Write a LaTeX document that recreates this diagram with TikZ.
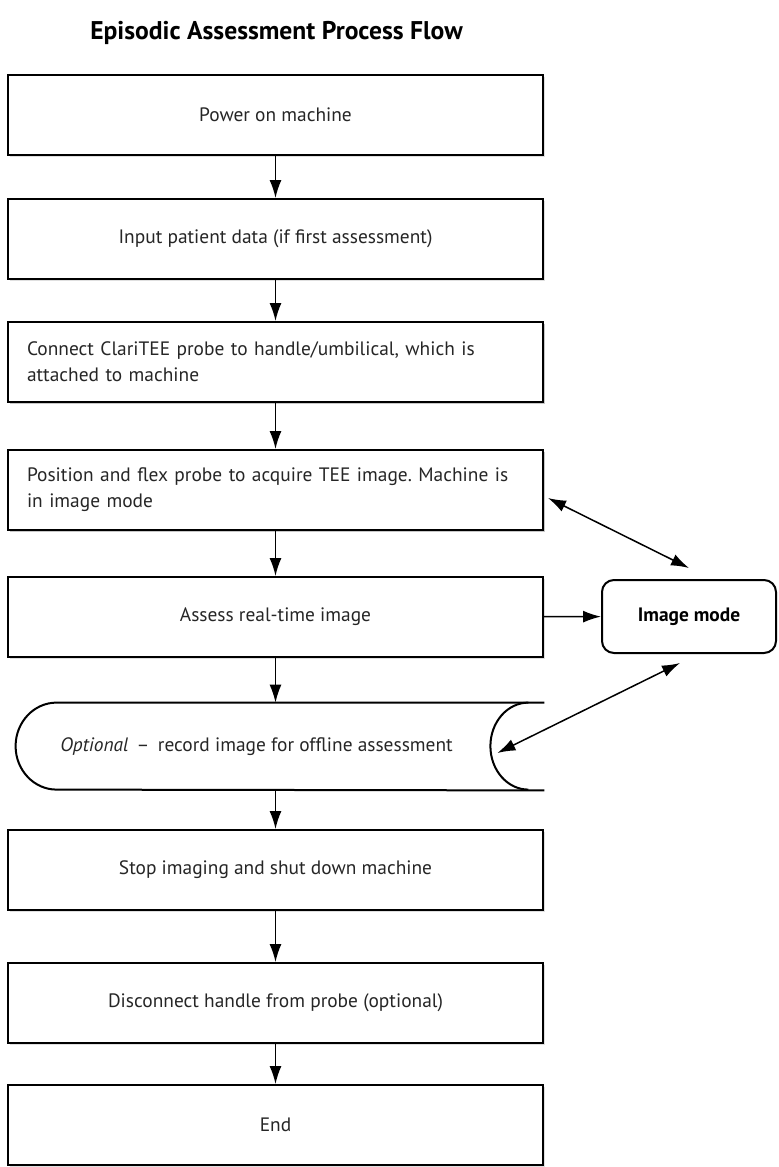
\documentclass[tikz,border=0pt]{standalone}
\usepackage{fontspec}
\setmainfont{PT Sans}
\usetikzlibrary{arrows.meta,shadows}
\frenchspacing
\tikzset{
    boite/.style={draw, line width=1pt, fill=white, minimum width=267.5pt, minimum height=40pt, inner sep=0pt, text=black!85, font=\fontsize{9.7}{13}\selectfont, drop shadow={shadow xshift=1pt, shadow yshift=-1pt, opacity=0.25}},
    boitegauche/.style={boite, align=left, text width=248.5pt, inner xsep=9.5pt},
    fleche/.style={line width=0.75pt, -{Latex[length=9pt,width=6pt]}},
    doublefleche/.style={line width=0.75pt, {Latex[length=9pt,width=6pt]}-{Latex[length=9pt,width=6pt]}}
}
\newcommand{\etape}[4]{\node[boite] (#1) at (275.5,#2) [#3] {#4}}

\begin{document}
\begin{tikzpicture}[x=0.5pt, y=-0.5pt]
                    \useasboundingbox (0,0) rectangle (778,1167);
                    \node[font=\fontsize{12.8}{15}\selectfont\bfseries] (titre) at (276.5,33) {Episodic Assessment Process Flow};

                    \etape{e1}{115}{}{Power on machine};
                    \etape{e2}{239}{}{Input patient data (if first assessment)};
                    \etape{e3}{362}{boitegauche}{Connect ClariTEE probe to handle/umbilical, which is\\attached to machine};
                    \etape{e4}{490}{boitegauche}{Position and flex probe to acquire TEE image. Machine is\\in image mode};
                    \etape{e5}{617}{}{Assess real-time image};
                    \node[minimum width=240.5pt, minimum height=43.5pt, inner sep=0pt, text=black!85, font=\fontsize{9.7}{13}\selectfont] (opt) at (256.5,746.5) {\textit{Optional} \,--\, record image for offline assessment};
                    \etape{e7}{870}{}{Stop imaging and shut down machine};
                    \etape{e8}{1003}{}{Disconnect handle from probe (optional)};
                    \etape{e9}{1125}{}{End};

                    \node[draw, line width=1pt, rounded corners=6pt, minimum width=87pt, minimum height=36.5pt, font=\fontsize{9.7}{13}\selectfont\bfseries] (mode) at (689,616.5) {Image mode};

                    \draw[line width=1pt] ([xshift=23.5pt]opt.north east) -- ([xshift=20.5pt]opt.north west) arc[start angle=90, end angle=270, x radius=20.5pt, y radius=21.75pt] -- ([xshift=23.5pt]opt.south east);
                    \draw[line width=1pt] ([xshift=15.5pt]opt.north east) arc[start angle=90, end angle=270, x radius=19pt, y radius=21.75pt];

                    \draw[fleche] (e1) -- (e2);
                    \draw[fleche] (e2) -- (e3);
                    \draw[fleche] (e3) -- (e4);
                    \draw[fleche] (e4) -- (e5);
                    \draw[fleche] (e5.south) -- (e5.south |- opt.north);
                    \draw[fleche] (e5.south |- opt.south) -- (e7.north);
                    \draw[fleche] (e7) -- (e8);
                    \draw[fleche] (e8) -- (e9);

                    \draw[fleche] (e5) -- (mode);
                    \draw[doublefleche] ([xshift=2pt,yshift=-4pt]e4.east) -- ([yshift=5.5pt]mode.north);
                    \draw[doublefleche] ([xshift=-4.5pt,yshift=-4.5pt]mode.south) -- ([yshift=-3.25pt]opt.east);
                \end{tikzpicture}
\end{document}
